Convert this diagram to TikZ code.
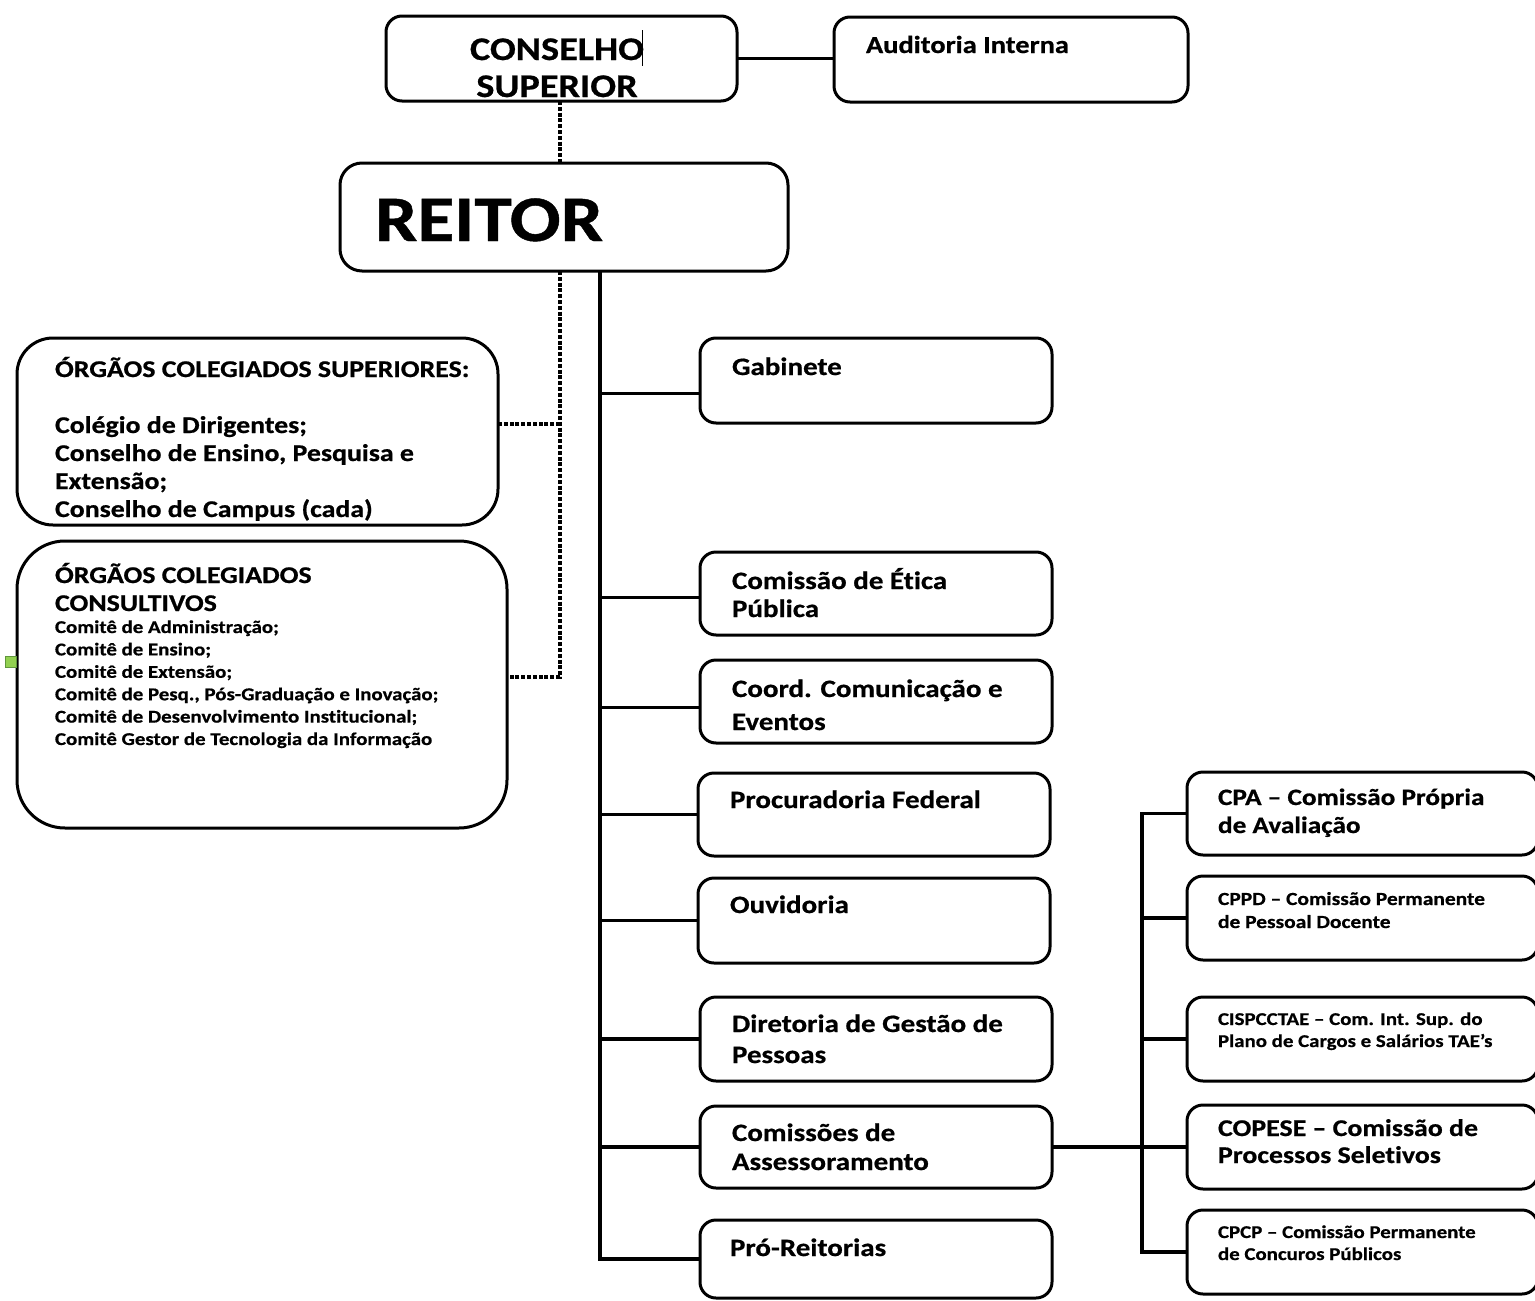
\documentclass[tikz,border=0pt]{standalone}
\usepackage{fontspec}
\setmainfont{Carlito}[FakeStretch=1.16, Ligatures=NoCommon, BoldFeatures={FakeBold=0.7}]
\definecolor{hfill}{RGB}{146,208,80}
\definecolor{hdraw}{RGB}{96,150,60}
\newcommand\tx[3]{\fontsize{#1}{#2}\selectfont\vtop{\halign{##\hfil\cr#3\crcr}}}
\newcommand\txc[3]{\fontsize{#1}{#2}\selectfont\vtop{\halign{\hfil##\hfil\cr#3\crcr}}}
\newcommand\bx[6][16pt]{\node[box, rounded corners=#1, minimum width={(#4-#2)*1pt}, minimum height={(#5-#3)*1pt}] (#6) at ({(#2+#4)/2},{(#3+#5)/2}) {};}
\begin{document}
\begin{tikzpicture}[x=1pt,y=-1pt,
  box/.style={draw, line width=3pt, inner sep=0pt, outer sep=0pt},
  conn/.style={line width=3.5pt},
  dotline/.style={line width=3.6pt, dash pattern=on 4pt off 1.8pt},
  lbl/.style={anchor=base west, inner sep=0pt, outer sep=0pt, font=\bfseries}]
\useasboundingbox (0,0) rectangle (1535,1301);
\clip (0,0) rectangle (1535,1301);
% boxes
\bx{386}{16}{737}{101}{cons}
\bx{834}{17}{1188}{102}{aud}
\bx[22pt]{340}{163}{788}{271}{reit}
\bx[36pt]{17}{338}{498}{525}{sup}
\bx[48pt]{17}{541}{507}{828}{csl}
\bx{700}{338}{1052}{423}{gab}
\bx{700}{552}{1052}{635}{etica}
\bx{700}{660}{1052}{743}{coord}
\bx{698}{773}{1050}{856}{proc}
\bx{698}{878}{1050}{963}{ouv}
\bx{700}{997}{1052}{1081}{dgp}
\bx{700}{1106}{1052}{1188}{cass}
\bx{700}{1220}{1052}{1298}{pro}
\bx{1187}{772}{1538}{855}{cpa}
\bx{1187}{876}{1538}{960}{cppd}
\bx{1187}{997}{1538}{1081}{cisp}
\bx{1187}{1105}{1538}{1189}{copese}
\bx{1187}{1210}{1538}{1294}{cpcp}
\node[draw=hdraw, fill=hfill, line width=1pt, minimum size=11pt, inner sep=0pt] (handle) at (11,661.5) {};
% solid connectors
\draw[conn] (cons.east) -- (cons.east -| aud.west);
\coordinate (tr) at (600,0);
\path (gab.west) ++(0,13) coordinate (gabw);
\path (etica.west) ++(0,4) coordinate (eticaw);
\path (coord.west) ++(0,6) coordinate (coordw);
\draw[conn] (reit.south -| tr) |- (pro.west);
\draw[conn] (gabw -| tr) -- (gabw);
\draw[conn] (eticaw -| tr) -- (eticaw);
\draw[conn] (coordw -| tr) -- (coordw);
\draw[conn] (proc.west -| tr) -- (proc.west);
\draw[conn] (ouv.west -| tr) -- (ouv.west);
\draw[conn] (dgp.west -| tr) -- (dgp.west);
\draw[conn] (cass.west -| tr) -- (cass.west);
\coordinate (bs) at (1142,0);
\draw[conn] (cass.east) -- (copese.west);
\draw[conn] (cpa.west) -| (bs |- cpcp.west) -- (cpcp.west);
\draw[conn] (cppd.west -| bs) -- (cppd.west);
\draw[conn] (cisp.west -| bs) -- (cisp.west);
% dotted connectors
\coordinate (dv) at (560,0);
\coordinate (sj) at (560,424);
\coordinate (cj) at (560,677);
\draw[dotline] (cons.south -| dv) -- (reit.north -| dv);
\draw[dotline] (reit.south -| dv) -- (cj) -- (cj -| csl.east);
\draw[dotline] (sj) -- (sj -| sup.east);
% caret
\draw[line width=1pt] (642,30) -- (642,66);
% texts
\node[lbl, anchor=base] (t-cons) at (557,60) {\txc{33}{37}{CONSELHO\cr SUPERIOR}};
\node[lbl] (t-aud) at (866,53) {\tx{24.5}{28}{Auditoria Interna}};
\node[lbl] (t-reit) at (375,241) {\tx{65}{70}{REITOR}};
\node[lbl] (t-sup) at (55,377) {\tx{24}{28}{ÓRGÃOS COLEGIADOS SUPERIORES:\cr\cr Colégio de Dirigentes;\cr Conselho de Ensino, Pesquisa e\cr Extensão;\cr Conselho de Campus (cada)}};
\node[lbl] (t-csl) at (55,583) {\tx{24}{28}{ÓRGÃOS COLEGIADOS\cr CONSULTIVOS}};
\node[lbl] (t-csl2) at (55,633) {\tx{18}{22.4}{Comitê de Administração;\cr Comitê de Ensino;\cr Comitê de Extensão;\cr Comitê de Pesq., Pós-Graduação e Inovação;\cr Comitê de Desenvolvimento Institucional;\cr Comitê Gestor de Tecnologia da Informação}};
\node[lbl] (t-gab) at (732,375) {\tx{25}{29}{Gabinete}};
\node[lbl] (t-etica) at (732,589) {\tx{25}{28}{Comissão de Ética\cr Pública}};
\node[lbl] (t-coord) at (732,697) {\tx{25}{33}{Coord. Comunicação e\cr Eventos}};
\node[lbl] (t-proc) at (730,808) {\tx{25}{29}{Procuradoria Federal}};
\node[lbl] (t-ouv) at (730,913) {\tx{25}{29}{Ouvidoria}};
\node[lbl] (t-dgp) at (732,1032) {\tx{25}{31}{Diretoria de Gestão de\cr Pessoas}};
\node[lbl] (t-cass) at (732,1141) {\tx{25}{29}{Comissões de\cr Assessoramento}};
\node[lbl] (t-pro) at (730,1256) {\tx{25}{29}{Pró-Reitorias}};
\node[lbl] (t-cpa) at (1218,805) {\tx{23.5}{28}{CPA – Comissão Própria\cr de Avaliação}};
\node[lbl] (t-cppd) at (1218,905) {\tx{18.5}{23}{CPPD – Comissão Permanente\cr de Pessoal Docente}};
\node[lbl] (t-cisp) at (1218,1025) {\tx{18}{22}{CISPCCTAE – Com. Int. Sup. do\cr Plano de Cargos e Salários TAE’s}};
\node[lbl] (t-copese) at (1218,1136) {\tx{24}{27}{COPESE – Comissão de\cr Processos Seletivos}};
\node[lbl] (t-cpcp) at (1218,1238) {\tx{18}{22}{CPCP – Comissão Permanente\cr de Concuros Públicos}};
\end{tikzpicture}
\end{document}
